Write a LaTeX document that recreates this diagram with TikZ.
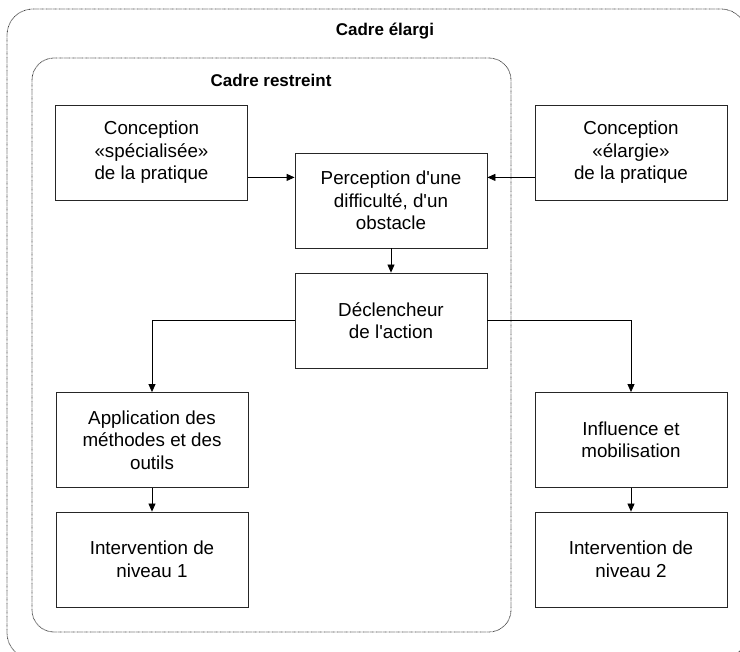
\documentclass[tikz,border=0pt]{standalone}
\usepackage{fontspec}
\setmainfont{Liberation Sans}
\usetikzlibrary{arrows.meta}
\begin{document}
\begin{tikzpicture}[x=1pt,y=-1pt,
  box/.style={draw=black!85, line width=0.8pt, minimum width=192pt, minimum height=95pt, inner sep=0pt, align=center, font=\fontsize{18.8}{22.5}\selectfont},
  frame/.style={draw=black!75, line width=0.8pt, dash pattern=on 0.7pt off 0.6pt},
  title/.style={font=\fontsize{17}{20}\selectfont\bfseries},
  arr/.style={line width=0.8pt, -{Triangle[length=8pt,width=7pt]}}]
\useasboundingbox (0,0) rectangle (740,652);
\draw[frame, rounded corners=26pt] (7,9) rectangle (747,659);
\draw[frame, rounded corners=22pt] (32,58) rectangle (511,632);
\node[title] (t1) at (385,31) {Cadre élargi};
\node[title] (t2) at (271,80) {Cadre restreint};
\node[box] (csp) at (151.5,152.5) {Conception\\«spécialisée»\\de la pratique};
\node[box] (cel) at (631,152.5) {Conception\\«élargie»\\de la pratique};
\node[box] (perc) at (391,200.5) {Perception d\textquotesingle une\\difficulté, d\textquotesingle un\\obstacle};
\node[box] (decl) at (391,320.5) {Déclencheur\\de l\textquotesingle action};
\node[box] (app) at (152,440) {Application des\\méthodes et des\\outils};
\node[box] (infl) at (631,440) {Influence et\\mobilisation};
\node[box] (int1) at (152,559.5) {Intervention de\\niveau 1};
\node[box] (int2) at (631,559.5) {Intervention de\\niveau 2};
\draw[arr] ([yshift=23pt]csp.south east) -- ([yshift=23pt]csp.south east -| perc.west);
\draw[arr] ([yshift=23pt]cel.south west) -- ([yshift=23pt]cel.south west -| perc.east);
\draw[arr] (perc.south) -- (decl.north);
\draw[arr] (decl.west) -| (app.north);
\draw[arr] (decl.east) -| (infl.north);
\draw[arr] (app.south) -- (int1.north);
\draw[arr] (infl.south) -- (int2.north);
\end{tikzpicture}
\end{document}
